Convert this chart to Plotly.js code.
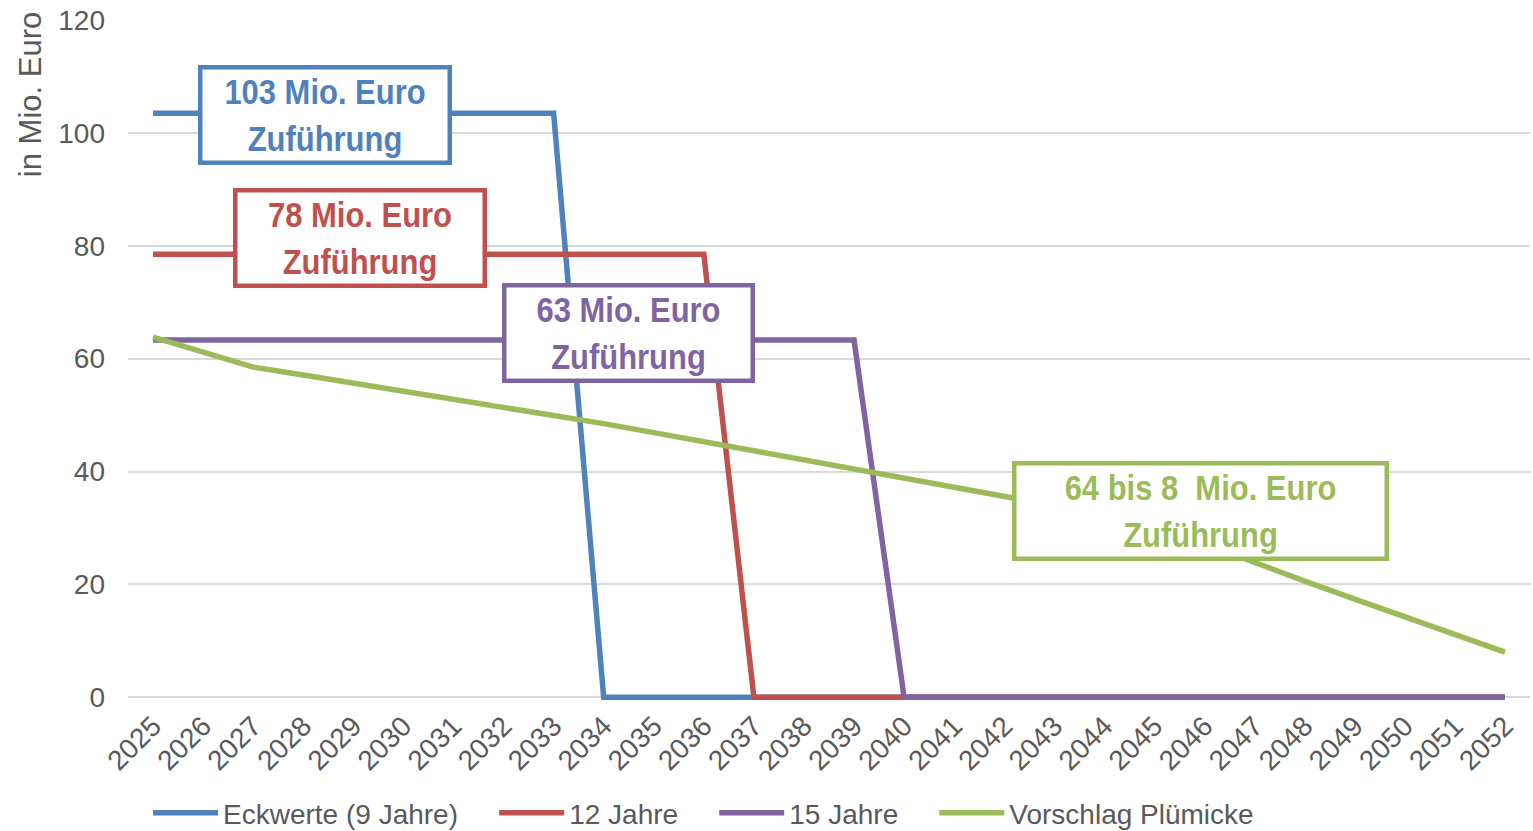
<!DOCTYPE html>
<html>
<head>
<meta charset="utf-8">
<script src="https://cdn.plot.ly/plotly-3.0.1.min.js"></script>
<style>
html,body{margin:0;padding:0;background:#fff;}
#chart{width:1533px;height:831px;}
.annotation:not([data-index="4"]) text.annotation-text{transform-box:fill-box;transform-origin:center;transform:scaleX(0.86);}
</style>
</head>
<body>
<div id="chart"></div>
<script>
const years = ["2025","2026","2027","2028","2029","2030","2031","2032","2033","2034","2035","2036","2037","2038","2039","2040","2041","2042","2043","2044","2045","2046","2047","2048","2049","2050","2051","2052"];
const eckwerte = [103.5,103.5,103.5,103.5,103.5,103.5,103.5,103.5,103.5,0,0,0,0,0,0,0,0,0,0,0,0,0,0,0,0,0,0,0];
const jahre12 = [78.5,78.5,78.5,78.5,78.5,78.5,78.5,78.5,78.5,78.5,78.5,78.5,0,0,0,0,0,0,0,0,0,0,0,0,0,0,0,0];
const jahre15 = [63.3,63.3,63.3,63.3,63.3,63.3,63.3,63.3,63.3,63.3,63.3,63.3,63.3,63.3,63.3,0,0,0,0,0,0,0,0,0,0,0,0,0];
const pluemicke = [63.8,61.1,58.5,57.1,55.7,54.3,52.9,51.5,50.0,48.5,46.9,45.3,43.7,42.1,40.5,38.9,37.2,35.6,34.0,32.2,30.1,27.2,23.8,20.6,17.4,14.3,11.2,8.0];
const seriesNames = ["Eckwerte (9 Jahre)","12 Jahre","15 Jahre","Vorschlag Plümicke"];
const colors = ["#4F81BD","#C0504D","#8064A2","#9BBB59"];
const boxTexts = ["103 Mio. Euro<br>Zuführung","78 Mio. Euro<br>Zuführung","63 Mio. Euro<br>Zuführung","64 bis 8  Mio. Euro<br>Zuführung"];

const pad = "\u00a0\u00a0\u00a0\u00a0";
const allSeries = [eckwerte, jahre12, jahre15, pluemicke];
const traces = allSeries.map((vals, i) => ({
  type: "scatter", mode: "lines", x: years, y: vals, name: seriesNames[i] + pad,
  line: {color: colors[i], width: 5.5}
}));

const baseFont = "Liberation Sans, Arial, sans-serif";
const tickFont = {family: baseFont, size: 28, color: "#595959"};
const boxPos = [
  {x: 3.44, y: 103.2, w: 245},
  {x: 4.14, y: 81.3, w: 245},
  {x: 9.49, y: 64.5, w: 244},
  {x: 20.91, y: 33.1, w: 368}
];
const annotations = boxPos.map((p, i) => ({
  xref: "x", yref: "y", x: p.x, y: p.y, text: "<b>" + boxTexts[i] + "</b>",
  showarrow: false, font: {family: baseFont, size: 36, color: colors[i]},
  bgcolor: "#ffffff", bordercolor: colors[i], borderwidth: 4.5, borderpad: 0,
  width: p.w, height: 91, align: "center", valign: "middle"
}));
annotations.push({
  xref: "paper", yref: "paper", x: -0.0699, y: 0.89, text: "in Mio. Euro",
  textangle: -90, showarrow: false, font: {family: baseFont, size: 31, color: "#595959"},
  xanchor: "center", yanchor: "middle"
});

const layout = {
  width: 1533, height: 831,
  margin: {l: 128, r: 3, t: 20, b: 128, autoexpand: false},
  paper_bgcolor: "#ffffff", plot_bgcolor: "#ffffff",
  showlegend: true,
  legend: {orientation: "h", x: 0.0143, xanchor: "left", y: -0.161, yanchor: "middle",
    font: {family: baseFont, size: 28, color: "#595959"},
    itemwidth: 65, traceorder: "normal"},
  xaxis: {type: "category", tickangle: -45, tickfont: tickFont, showgrid: false, showline: false,
    zeroline: false, ticks: "", range: [-0.5, 27.5]},
  yaxis: {range: [-1, 120], tickvals: [0,20,40,60,80,100,120], tickfont: tickFont,
    showgrid: true, gridcolor: "#D9D9D9", gridwidth: 2, zeroline: false, showline: false,
    ticks: "", ticklabelstandoff: 22},
  annotations: annotations
};

Plotly.newPlot("chart", traces, layout, {displayModeBar: false, staticPlot: true});
</script>
</body>
</html>
